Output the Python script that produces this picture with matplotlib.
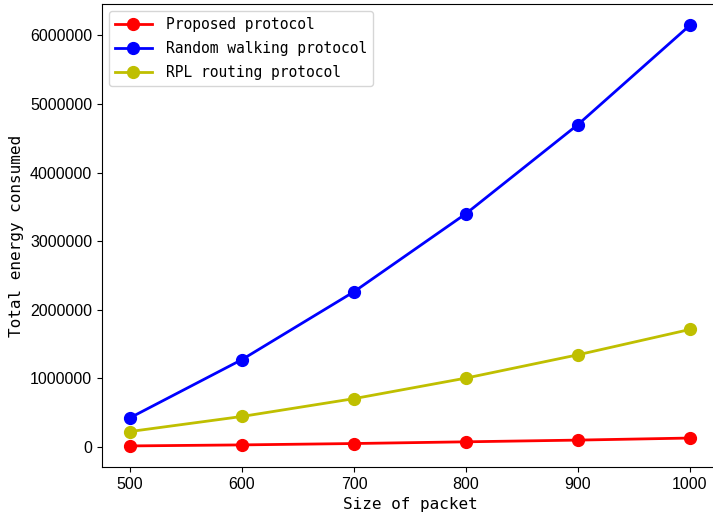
import matplotlib
matplotlib.use("Agg")
import matplotlib.pyplot as plt

packet_size = [500, 600, 700, 800, 900, 1000]
proposed = [10000, 25000, 45000, 70000, 95000, 125000]
random_walk = [420000, 1270000, 2260000, 3400000, 4700000, 6150000]
rpl = [220000, 440000, 700000, 1000000, 1340000, 1710000]

label_font = {"family": "DejaVu Sans Mono", "size": 11.5}

fig = plt.figure(figsize=(7.13, 5.2), dpi=100)
# axes run a little past the right edge, like the cropped original
ax = fig.add_axes([0.143, 0.102, 0.864, 0.890])
ax.spines["right"].set_visible(False)

ax.plot(packet_size, proposed, "r-o", lw=2, ms=8.5, label="Proposed protocol")
ax.plot(packet_size, random_walk, "b-o", lw=2, ms=8.5, label="Random walking protocol")
ax.plot(packet_size, rpl, "y-o", lw=2, ms=8.5, label="RPL routing protocol")

ax.set_xlabel("Size of packet", fontdict=label_font)
ax.set_ylabel("Total energy consumed", fontdict=label_font)
ax.ticklabel_format(axis="y", style="plain", useOffset=False)
ax.tick_params(labelfontfamily="Liberation Sans", labelsize=11.5)

ax.legend(loc="upper left", prop={"family": "DejaVu Sans Mono", "size": 10.5},
          handlelength=2.5, handletextpad=1.0, labelspacing=0.6)

plt.savefig("out.png")
